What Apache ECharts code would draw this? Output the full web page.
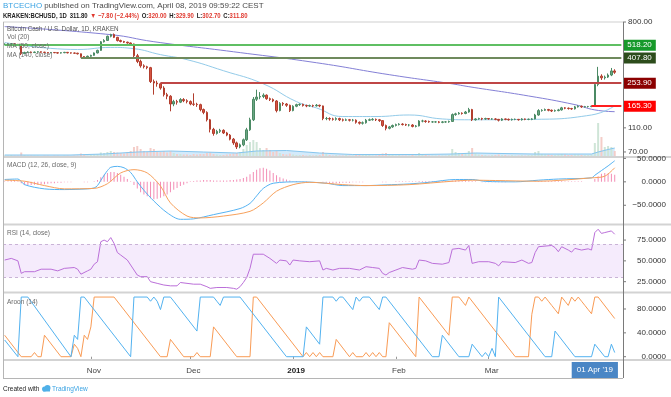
<!DOCTYPE html>
<html>
<head>
<meta charset="utf-8">
<title>BCHUSD 1D</title>
<script src="https://cdn.jsdelivr.net/npm/echarts@6/dist/echarts.min.js"></script>
<style>
  html, body { margin: 0; padding: 0; background: #fff; }
  #chart { width: 671px; height: 397px; }
</style>
</head>
<body>
<div id="chart"></div>
<script>
// KRAKEN:BCHUSD daily, 6 Oct 2018 -> 8 Apr 2019
const firstOpen = 525; // open of the first candle, the others open at the previous close

const closes = [
  527, 529, 531, 527, 522, 442, 452, 456, 451, 455,
  458, 454, 452, 449, 452, 450, 447, 450, 453, 449,
  447, 446, 441, 418, 415, 421, 428, 448, 470, 552,
  566, 612, 632, 600, 565, 555, 548, 540, 530, 425,
  382, 352, 346, 340, 262, 255, 251, 232, 205, 199,
  172, 180, 178, 187, 183, 180, 172, 171, 170, 155,
  147, 128, 107, 99, 103, 105, 100, 96, 89, 83,
  77, 80, 88, 106, 128, 188, 196, 198, 203, 190,
  187, 182, 152, 174, 172, 168, 152, 165, 170, 171,
  167, 166, 167, 166, 168, 166, 131, 131, 130, 129,
  131, 128, 127, 128, 127, 127, 122, 120, 121, 127,
  128, 129, 128, 126, 115, 109, 112, 115, 117, 118,
  117, 116, 116, 113, 114, 125, 125, 124, 123, 123,
  123, 122, 123, 123, 124, 141, 143, 145, 144, 148,
  155, 128, 130, 131, 130, 131, 130, 130, 129, 127,
  130, 129, 128, 129, 129, 128, 130, 129, 129, 130,
  140, 152, 153, 155, 153, 151, 152, 154, 160, 159,
  158, 157, 163, 165, 163, 164, 164, 165.3, 248, 290,
  281, 285, 296, 319.6, 311.8
];

const lows = [
  518, 522, 524, 521, 515, 430, 438, 447, 446, 447,
  450, 449, 447, 444, 445, 446, 442, 443, 446, 444,
  442, 441, 435, 410, 408, 411, 417, 425, 444, 466,
  545, 560, 600, 592, 555, 546, 540, 533, 520, 415,
  370, 340, 335, 330, 255, 205, 238, 225, 198, 188,
  150, 165, 170, 175, 178, 174, 168, 166, 163, 150,
  142, 124, 101, 95, 97, 100, 98, 94, 87, 80,
  74, 75, 78, 86, 104, 125, 182, 188, 192, 186,
  182, 178, 147, 150, 166, 163, 148, 150, 162, 166,
  164, 162, 163, 162, 164, 162, 127, 127, 126, 126,
  126, 125, 124, 125, 124, 124, 119, 117, 117, 119,
  125, 126, 125, 123, 112, 105, 107, 110, 113, 115,
  115, 114, 113, 111, 111, 113, 122, 121, 121, 121,
  121, 120, 120, 121, 121, 123, 138, 141, 141, 142,
  146, 125, 126, 128, 127, 128, 128, 128, 127, 124,
  125, 127, 126, 126, 127, 126, 126, 127, 127, 127,
  129, 138, 149, 151, 150, 148, 149, 150, 152, 156,
  155, 154, 155, 161, 160, 161, 161, 162, 163, 240,
  270, 272, 280, 290, 302.7
];

const highs = [
  536, 534, 538, 535, 530, 525, 458, 462, 460, 460,
  463, 461, 458, 455, 456, 455, 453, 454, 457, 456,
  452, 451, 449, 443, 423, 426, 433, 452, 476, 560,
  580, 620, 642, 645, 606, 575, 562, 553, 545, 534,
  440, 395, 362, 352, 345, 272, 266, 256, 240, 212,
  203, 186, 186, 192, 192, 188, 184, 210, 176, 173,
  158, 150, 130, 110, 106, 108, 107, 102, 98, 91,
  85, 82, 90, 110, 133, 196, 225, 215, 210, 206,
  194, 191, 185, 178, 178, 175, 170, 168, 173, 174,
  173, 170, 170, 170, 172, 170, 167, 135, 134, 133,
  134, 133, 131, 131, 130, 130, 129, 124, 124, 130,
  131, 132, 131, 130, 127, 117, 114, 117, 119, 120,
  120, 119, 118, 118, 116, 127, 128, 127, 126, 125,
  125, 125, 125, 125, 126, 144, 146, 148, 147, 151,
  160, 157, 132, 133, 133, 133, 132, 132, 132, 130,
  132, 131, 131, 131, 131, 130, 132, 131, 131, 132,
  143, 156, 156, 158, 157, 155, 155, 157, 163, 162,
  161, 160, 166, 168, 167, 166, 166, 167, 256, 345,
  300, 293, 305, 338, 329.9
];

// volume, thousand BCH
const volumes = [
  3, 3, 4, 3, 3, 9, 4, 3, 3, 3,
  3, 2, 3, 3, 2, 3, 3, 2, 3, 3,
  2, 3, 3, 7, 4, 3, 4, 5, 6, 9,
  8, 10, 12, 10, 9, 8, 7, 10, 12, 20,
  22, 16, 12, 10, 18, 16, 10, 10, 12, 9,
  12, 8, 6, 6, 5, 5, 4, 6, 5, 6,
  6, 8, 9, 6, 5, 4, 4, 5, 6, 7,
  8, 10, 16, 24, 30, 34, 30, 18, 14, 18,
  14, 10, 12, 8, 6, 5, 7, 5, 4, 4,
  4, 3, 4, 3, 4, 4, 10, 6, 4, 3,
  4, 3, 3, 4, 3, 3, 5, 4, 4, 5,
  4, 3, 3, 4, 7, 8, 5, 4, 3, 4,
  3, 3, 3, 4, 3, 8, 5, 4, 3, 3,
  3, 3, 3, 3, 4, 16, 10, 8, 6, 8,
  12, 18, 8, 5, 4, 4, 3, 4, 4, 5,
  4, 4, 3, 4, 3, 3, 4, 3, 4, 4,
  10, 12, 6, 5, 5, 4, 4, 5, 6, 5,
  4, 4, 5, 5, 4, 4, 4, 5, 28, 68,
  40, 20, 22, 20, 12
];

// [day index, value] points
const volMA = [[0, 4], [20, 4], [30, 6], [40, 10], [50, 12], [60, 10], [70, 8], [76, 12], [85, 13],
  [95, 8], [105, 5], [115, 5], [125, 5], [135, 6], [142, 8], [150, 7], [160, 6], [170, 6], [177, 6],
  [179, 10], [182, 15], [184, 18]];

const ma50 = [[0, 545], [22, 478], [32, 497], [39, 485], [47, 434], [55, 395], [66, 321], [78, 251],
  [88, 180], [94, 160], [102, 136], [112, 136], [122, 140], [132, 130], [140, 128], [159, 129],
  [177, 140], [184, 166]];

const ma140 = [[0, 734], [32, 631], [45, 553], [69, 458], [94, 373], [116, 298], [135, 251],
  [140, 238], [158, 200], [172, 170], [178, 154], [184, 149]];

const macdLine = [[0, 5], [4, 6], [6, -6], [12, -15], [18, -16.5], [25, -15], [27, -13], [28, -8],
  [29, 3], [30, 14], [31, 24], [32, 31], [34, 33], [36, 30], [38, 20], [40, 0], [42, -18], [45, -41],
  [49, -66], [53, -80], [57, -79], [63, -70], [71, -57], [74, -46], [76, -30], [78, -14], [81, -3],
  [89, 0], [97, -3], [102, -8], [109, -8], [115, -6.5], [122, -4.5], [128, -1], [136, 5], [141, 5],
  [145, 1], [154, 0], [161, 3.5], [167, 6], [177, 8.5], [178, 14], [180, 24], [182, 34], [184, 45]];

const signalLine = [[0, 3.5], [6, 1.3], [12, -8], [18, -15], [27, -14], [31, -4], [35, 19], [39, 26],
  [43, 19], [47, -9], [50, -45], [55, -73], [59, -77], [66, -73], [74, -63], [78, -45], [82, -20],
  [87, -6], [92, -1], [102, -6], [109, -8], [122, -6], [135, 1.3], [141, 3.5], [148, 2.8],
  [161, 1.3], [177, 8.5], [181, 12], [184, 30]];

const macdHist = [
  1, 1, 2, 2, 1, -3, -6, -7, -7, -6,
  -6, -5, -5, -4, -3, -3, -2, -2, -1, -1,
  -1, 0, 0, 0, -1, -1, 0, 1, 4, 10,
  15, 19, 21, 21, 19, 15, 11, 6, 1, -7,
  -14, -22, -27, -31, -35, -37, -36, -34, -31, -27,
  -22, -17, -13, -9, -6, -3, 1, 2, 3, 3,
  4, 4, 4, 3, 3, 3, 3, 3, 4, 4,
  5, 6, 8, 11, 16, 21, 26, 29, 30, 28,
  24, 19, 14, 10, 7, 5, 3, 2, 2, 1,
  1, 1, 0, 0, 0, 0, -1, -2, -3, -3,
  -3, -3, -2, -2, -2, -1, -1, -1, -1, 0,
  0, 0, 0, 0, -1, -1, 0, 0, 1, 1,
  1, 1, 1, 1, 1, 2, 2, 2, 2, 2,
  2, 2, 2, 2, 2, 3, 3, 3, 3, 3,
  3, 2, 1, 0, -1, -1, -1, -1, -1, -1,
  -1, -1, 0, 0, 0, 0, 0, 0, 0, 0,
  1, 2, 2, 2, 2, 2, 2, 2, 2, 1,
  1, 1, 1, 1, 1, 0, 0, 0, 6, 12,
  17, 19, 18, 17, 15
];

const rsi = [[0, 51], [2, 53], [4, 50], [5, 35], [6, 37], [9, 37], [11, 40], [14, 40], [16, 38],
  [18, 41], [21, 42], [22, 40], [23, 34], [25, 38], [26, 40], [27, 46], [28, 49], [29, 73], [30, 75],
  [31, 73], [32, 78], [33, 71], [34, 60], [35, 57], [37, 51], [39, 39], [40, 33], [41, 31], [43, 31],
  [44, 25], [46, 23], [48, 21], [50, 20], [52, 20], [53, 24], [55, 23], [57, 22], [59, 22], [61, 19],
  [62, 17], [64, 18], [67, 18], [69, 17], [70, 16], [71, 19], [72, 24], [73, 30], [74, 41], [75, 58],
  [77, 58], [78, 58], [80, 53], [82, 47], [83, 51], [85, 50], [86, 45], [87, 51], [89, 50], [92, 49],
  [95, 50], [96, 39], [97, 41], [99, 39], [101, 41], [104, 41], [107, 39], [109, 43], [111, 42],
  [113, 41], [114, 35], [115, 33], [116, 36], [118, 39], [120, 42], [123, 40], [124, 41], [125, 51],
  [127, 50], [129, 47], [132, 46], [134, 48], [135, 64], [137, 65], [139, 63], [140, 68.5], [141, 47],
  [143, 49], [146, 49], [148, 47], [149, 44], [150, 49], [154, 48], [156, 51], [158, 47], [159, 48],
  [160, 60], [161, 67], [165, 68.5], [166, 66], [167, 61], [168, 67], [170, 63], [171, 60.5],
  [172, 65], [174, 63], [176, 64.5], [177, 63], [178, 84], [179, 88], [180, 83], [181, 84], [182, 85],
  [183, 86], [184, 82]];

const aroonUp = [[0, 36], [5, 0], [8, 0], [9, 7], [10, 0], [11, 0], [12, 36], [17, 0], [20, 0],
  [21, 21], [22, 14], [23, 0], [24, 36], [25, 29], [26, 50], [27, 100], [33, 100], [47, 0], [49, 0],
  [50, 29], [54, 0], [57, 0], [58, 7], [59, 0], [62, 0], [63, 50], [70, 0], [74, 0], [75, 100],
  [76, 100], [90, 0], [91, 7], [92, 0], [93, 7], [94, 0], [95, 7], [96, 0], [99, 0], [100, 29],
  [104, 0], [105, 7], [106, 0], [108, 0], [109, 7], [110, 0], [111, 7], [112, 0], [113, 7], [114, 0],
  [115, 0], [116, 57], [124, 0], [125, 100], [134, 36], [135, 100], [137, 100], [138, 93], [139, 86],
  [140, 100], [154, 0], [158, 0], [159, 71], [160, 100], [161, 100], [162, 93], [163, 100],
  [164, 93], [165, 86], [166, 79], [167, 72], [168, 100], [169, 93], [170, 86], [171, 100],
  [172, 93], [173, 100], [174, 93], [175, 86], [176, 79], [177, 72], [178, 100], [179, 100],
  [184, 64]];

const aroonDown = [[0, 28], [4, 0], [5, 100], [7, 100], [20, 0], [21, 36], [22, 29], [23, 100],
  [24, 100], [38, 0], [39, 100], [43, 100], [44, 93], [45, 100], [46, 93], [47, 79], [48, 100],
  [50, 100], [51, 93], [58, 43], [59, 100], [63, 100], [64, 93], [65, 86], [66, 100], [71, 100],
  [85, 0], [90, 0], [91, 50], [95, 21], [96, 100], [99, 100], [100, 93], [101, 100], [102, 100],
  [105, 79], [106, 100], [107, 93], [108, 100], [110, 100], [113, 79], [114, 100], [115, 100],
  [129, 0], [131, 0], [132, 36], [137, 0], [140, 0], [141, 21], [144, 0], [145, 7], [146, 0],
  [147, 14], [148, 0], [149, 100], [163, 0], [165, 0], [166, 43], [172, 0], [177, 0], [178, 21],
  [181, 0], [182, 0], [183, 21], [184, 7]];

// horizontal levels drawn on the price pane: price, first day index, colours
const levelPrices = [518.2, 407.8, 253.9, 165.3];
const levelStart = [0, 23, 47, 177];
const levelLineColors = ['#5fbf63', '#6f8a5d', '#bf4646', '#ff1f1f'];
const levelBoxColors = ['#17992a', '#2d4c1c', '#8b0000', '#ff0000'];

// axis tick labels
const priceTicks = [800, 110, 70];
const macdTicks = [50, 0, -50];
const rsiTicks = [75, 50, 25];
const aroonTicks = [80, 40, 0];
const monthLabels = {
  '2018-11-01': 'Nov', '2018-12-01': 'Dec', '2019-01-01': '2019',
  '2019-02-01': 'Feb', '2019-03-01': 'Mar', '2019-04-02': "01 Apr '19"
};
const cursorDay = '2019-04-02'; // the boxed crosshair date label sits here

// one category per day, two empty days after the last candle
const days = [];
for (let i = 0; i < 187; i++) {
  days.push(new Date(Date.UTC(2018, 9, 6 + i)).toISOString().slice(0, 10));
}
const LAST = days.length - 1;

const FONT = '"Liberation Sans", Arial, sans-serif';
const UP = '#6ba583', DOWN = '#d75442';

const candles = closes.map((c, i) => [i === 0 ? firstOpen : closes[i - 1], c, lows[i], highs[i]]);
const volBars = volumes.map((v, i) => ({
  value: v,
  itemStyle: { color: candles[i][1] >= candles[i][0] ? '#cfe5d7' : '#f4cdc8' }
}));

const chart = echarts.init(document.getElementById('chart'), null, { renderer: 'canvas' });

const grids = [
  { left: 3, right: 48, top: 22, height: 135 },
  { left: 3, right: 48, top: 157, height: 67 },
  { left: 3, right: 48, top: 225, height: 67 },
  { left: 3, right: 48, top: 293, height: 67 }
];

const xAxes = grids.map((g, k) => ({
  type: 'category',
  gridIndex: k,
  data: days,
  boundaryGap: true,
  axisLine: { show: false },
  axisTick: { show: false },
  axisLabel: { show: false },
  splitLine: { show: false }
}));
// bottom pane carries the date labels
xAxes[3].axisTick = {
  show: true, length: 3, alignWithLabel: true,
  interval: (idx, val) => monthLabels[val] !== undefined && val !== cursorDay,
  lineStyle: { color: '#999' }
};
xAxes[3].axisLabel = {
  show: true,
  margin: 2,
  interval: (idx, val) => monthLabels[val] !== undefined,
  formatter: val => {
    const t = monthLabels[val];
    if (val === cursorDay) return '{box|' + t + '}';
    if (t === '2019') return '{yr|' + t + '}';
    return '{m|' + t + '}';
  },
  rich: {
    m: { fontSize: 8, fontFamily: FONT, color: '#444', padding: [5, 0, 0, 6] },
    yr: { fontSize: 8, fontFamily: FONT, color: '#222', fontWeight: 'bold', padding: [5, 0, 0, 6] },
    box: { fontSize: 8, fontFamily: FONT, color: '#fff', backgroundColor: '#4a86c5', padding: [4, 5, 4, 5] }
  }
};

const hiddenY = { show: false, splitLine: { show: false } };

const option = {
  animation: false,
  backgroundColor: '#fff',
  grid: grids,
  xAxis: xAxes,
  yAxis: [
    Object.assign({ type: 'log', gridIndex: 0, min: 63.7, max: 800, logBase: 10 }, hiddenY),
    Object.assign({ type: 'value', gridIndex: 0, min: 0, max: 270 }, hiddenY),
    Object.assign({ type: 'value', gridIndex: 1, min: -90, max: 53 }, hiddenY),
    Object.assign({ type: 'value', gridIndex: 2, min: 12.6, max: 93.1 }, hiddenY),
    Object.assign({ type: 'value', gridIndex: 3, min: -5.5, max: 106.8 }, hiddenY)
  ],
  series: [
    {
      name: 'Vol', type: 'bar', xAxisIndex: 0, yAxisIndex: 1,
      data: volBars, barWidth: 2, z: 1
    },
    {
      name: 'Vol MA', type: 'line', xAxisIndex: 0, yAxisIndex: 1,
      data: volMA, symbol: 'none', z: 1,
      lineStyle: { color: '#86c6ee', width: 1 },
      areaStyle: { color: 'rgba(120, 190, 240, 0.45)' }
    },
    {
      name: 'MA 140', type: 'line', xAxisIndex: 0, yAxisIndex: 0,
      data: ma140, symbol: 'none', smooth: true, clip: false, z: 3,
      lineStyle: { color: '#8480d6', width: 1 },
      markLine: {
        silent: true,
        symbol: ['none', 'none'],
        data: levelPrices.map((p, k) => [
          {
            coord: [levelStart[k], p],
            lineStyle: { color: levelLineColors[k], width: 2, type: 'solid' },
            label: {
              show: true, position: 'end', distance: 2,
              formatter: p.toFixed(2),
              color: '#fff', backgroundColor: levelBoxColors[k],
              padding: [2, 4, 1, 4], fontSize: 8, fontFamily: FONT
            }
          },
          { coord: [LAST, p] }
        ])
      }
    },
    {
      name: 'MA 50', type: 'line', xAxisIndex: 0, yAxisIndex: 0,
      data: ma50, symbol: 'none', smooth: true, z: 3,
      lineStyle: { color: '#93cbe9', width: 1 }
    },
    {
      name: 'BCHUSD', type: 'candlestick', xAxisIndex: 0, yAxisIndex: 0,
      data: candles, barWidth: 2, z: 4,
      itemStyle: {
        color: UP, color0: DOWN,
        borderColor: '#4b8a64', borderColor0: '#b23e2e', borderWidth: 1
      }
    },
    {
      name: 'Histogram', type: 'bar', xAxisIndex: 1, yAxisIndex: 2,
      data: macdHist, barWidth: 1, itemStyle: { color: '#f38db5' }
    },
    {
      name: 'MACD', type: 'line', xAxisIndex: 1, yAxisIndex: 2,
      data: macdLine, symbol: 'none', smooth: 0.3,
      lineStyle: { color: '#55b3f3', width: 1 }
    },
    {
      name: 'Signal', type: 'line', xAxisIndex: 1, yAxisIndex: 2,
      data: signalLine, symbol: 'none', smooth: 0.3,
      lineStyle: { color: '#f7a15c', width: 1 }
    },
    {
      name: 'RSI', type: 'line', xAxisIndex: 2, yAxisIndex: 3,
      data: rsi, symbol: 'none',
      lineStyle: { color: '#bb6fd9', width: 1 },
      markArea: {
        silent: true,
        itemStyle: { color: 'rgba(170, 90, 230, 0.12)' },
        data: [[{ yAxis: 30 }, { yAxis: 70 }]]
      },
      markLine: {
        silent: true, symbol: ['none', 'none'], label: { show: false },
        lineStyle: { color: '#c9b3d6', type: [3, 3], width: 1 },
        data: [{ yAxis: 30 }, { yAxis: 70 }]
      }
    },
    {
      name: 'Aroon Up', type: 'line', xAxisIndex: 3, yAxisIndex: 4,
      data: aroonUp, symbol: 'none',
      lineStyle: { color: '#f99b55', width: 1 }
    },
    {
      name: 'Aroon Down', type: 'line', xAxisIndex: 3, yAxisIndex: 4,
      data: aroonDown, symbol: 'none',
      lineStyle: { color: '#52b2f0', width: 1 }
    }
  ]
};

chart.setOption(option);

// ---- frame, pane titles and axis labels (placed through the axes' own scales) ----
function line(x1, y1, x2, y2, color, w) {
  return { type: 'line', silent: true, z: 10, shape: { x1, y1, x2, y2 }, style: { stroke: color, lineWidth: w || 1 } };
}
function label(x, y, str, align, extra) {
  return {
    type: 'text', x: x, y: y, silent: true, z: 11,
    style: Object.assign({
      text: str, textAlign: align || 'left', textVerticalAlign: 'middle',
      font: '8px ' + FONT, fill: '#444'
    }, extra || {})
  };
}
const fmt4 = v => (v < 0 ? '\u2212' : '') + Math.abs(v).toFixed(4);

const g = [];
// pane separators and outer frame
[157, 224.5, 292.5, 360].forEach(y => g.push(line(3, y, 671, y, '#d3d3d3', 2)));
g.push(line(3, 22, 623, 22, '#cfcfcf', 1));
g.push(line(3.5, 22, 3.5, 378, '#b5b5b5', 1));
g.push(line(3, 378.5, 623, 378.5, '#b5b5b5', 1));
g.push(line(623.5, 22, 623.5, 378, '#7a7a7a', 1));

// right axis labels
priceTicks.forEach(v => {
  const y = chart.convertToPixel({ yAxisIndex: 0 }, v);
  g.push(line(623, y, 626, y, '#7a7a7a'));
  g.push(label(628, y, v.toFixed(2), 'left', { fill: '#333' }));
});
[[2, macdTicks], [3, rsiTicks], [4, aroonTicks]].forEach(([ax, ticks]) => {
  ticks.forEach(v => {
    const y = chart.convertToPixel({ yAxisIndex: ax }, v);
    g.push(line(623, y, 626, y, '#7a7a7a'));
    g.push(label(666, y, fmt4(v), 'right', { fill: '#333' }));
  });
});

// pane titles
const small = { font: '6.5px ' + FONT, fill: '#6a6a6a' };
g.push(label(7, 29, 'Bitcoin Cash / U.S. Dollar, 1D, KRAKEN', 'left', { font: '6.3px ' + FONT, fill: '#555' }));
g.push(label(7, 37.5, 'Vol (20)', 'left', small));
g.push(label(7, 46.5, 'MA (50, close)', 'left', small));
g.push(label(7, 55, 'MA (140, close)', 'left', small));
g.push(label(7, 165, 'MACD (12, 26, close, 9)', 'left', small));
g.push(label(7, 233, 'RSI (14, close)', 'left', small));
g.push(label(7, 302, 'Aroon (14)', 'left', small));

// header
g.push({
  type: 'text', x: 3, y: 6, silent: true, z: 11,
  style: {
    text: '{u|BTCECHO}{t| published on TradingView.com, April 08, 2019 09:59:22 CEST}',
    textVerticalAlign: 'middle',
    rich: {
      u: { fill: '#3aa3e3', fontSize: 8, fontFamily: FONT },
      t: { fill: '#4a4a4a', fontSize: 8, fontFamily: FONT }
    }
  }
});
// the symbol line is set in a narrow face, so squeeze it horizontally
g.push({
  type: 'text', x: 3, y: 16, scaleX: 0.85, silent: true, z: 11,
  style: {
    text: '{k|KRAKEN:BCHUSD, 1D} {k|311.80} {r|\u25BC \u22127.80 (\u22122.44%)} {k|O:}{r|320.00} {k|H:}{r|329.90} {k|L:}{r|302.70} {k|C:}{r|311.80}',
    textVerticalAlign: 'middle',
    rich: {
      k: { fill: '#222', fontSize: 7, fontWeight: 'bold', fontFamily: FONT },
      r: { fill: '#e0392f', fontSize: 7, fontWeight: 'bold', fontFamily: FONT }
    }
  }
});

// footer
g.push(label(3, 389, 'Created with', 'left', { font: '6.5px ' + FONT, fill: '#222' }));
g.push({ type: 'circle', silent: true, shape: { cx: 44.5, cy: 389, r: 2.5 }, style: { fill: '#4fb0e8' } });
g.push({ type: 'circle', silent: true, shape: { cx: 47.5, cy: 388, r: 3 }, style: { fill: '#4fb0e8' } });
g.push({ type: 'rect', silent: true, shape: { x: 43, y: 389, width: 7, height: 2.5 }, style: { fill: '#4fb0e8' } });
g.push(label(52, 389, 'TradingView', 'left', { font: '6.5px ' + FONT, fill: '#3aa3e3' }));

chart.setOption({ graphic: g });
</script>
</body>
</html>
